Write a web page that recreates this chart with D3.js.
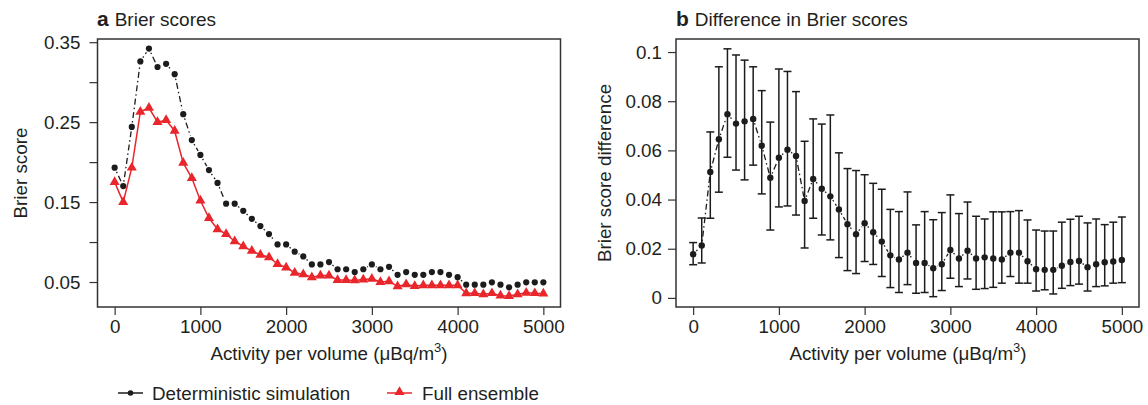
<!DOCTYPE html>
<html>
<head>
<meta charset="utf-8">
<script src="https://cdn.jsdelivr.net/npm/d3@7"></script>
<style>
  body { margin: 0; background: #fff; }
  text { font-family: "Liberation Sans", Arial, Helvetica, sans-serif; fill: #231f20; }
</style>
</head>
<body>
<div id="chart"></div>
<script>
// DATA
const activity = [0, 100, 200, 300, 400, 500, 600, 700, 800, 900, 1000, 1100, 1200, 1300, 1400, 1500,
  1600, 1700, 1800, 1900, 2000, 2100, 2200, 2300, 2400, 2500, 2600, 2700, 2800, 2900, 3000, 3100,
  3200, 3300, 3400, 3500, 3600, 3700, 3800, 3900, 4000, 4100, 4200, 4300, 4400, 4500, 4600, 4700,
  4800, 4900, 5000];

const deterministic = [0.193, 0.170, 0.244, 0.326, 0.342, 0.319, 0.323, 0.310, 0.260, 0.2275, 0.209,
  0.190, 0.174, 0.148, 0.148, 0.139, 0.129, 0.120, 0.110, 0.097, 0.097, 0.088, 0.082, 0.072, 0.072,
  0.075, 0.066, 0.066, 0.0625, 0.066, 0.072, 0.066, 0.069, 0.059, 0.0625, 0.059, 0.059, 0.0625,
  0.0625, 0.059, 0.056, 0.0467, 0.0467, 0.0467, 0.0496, 0.0467, 0.0434, 0.0467, 0.0496, 0.0496, 0.0496];

const ensemble = [0.175, 0.150, 0.193, 0.263, 0.268, 0.250, 0.2525, 0.239, 0.199, 0.180, 0.152,
  0.130, 0.116, 0.110, 0.101, 0.0946, 0.089, 0.084, 0.081, 0.0725, 0.068, 0.0616, 0.0596, 0.0559,
  0.058, 0.058, 0.0525, 0.0525, 0.052, 0.053, 0.054, 0.050, 0.051, 0.0446, 0.047, 0.045, 0.046,
  0.046, 0.046, 0.046, 0.046, 0.0359, 0.036, 0.0346, 0.036, 0.0329, 0.0325, 0.0346, 0.0365, 0.036, 0.0354];

const diffMean = [0.0178, 0.0213, 0.0512, 0.0645, 0.0747, 0.0709, 0.0718, 0.0728, 0.0619, 0.0489,
  0.057, 0.0603, 0.0577, 0.0394, 0.0484, 0.0444, 0.0413, 0.036, 0.030, 0.0259, 0.0304, 0.0267,
  0.0229, 0.0173, 0.0156, 0.0184, 0.0142, 0.0142, 0.0121, 0.0137, 0.0195, 0.016, 0.0192, 0.016,
  0.0165, 0.016, 0.0156, 0.0184, 0.0184, 0.0149, 0.0117, 0.0114, 0.0114, 0.0131, 0.0146, 0.015,
  0.0125, 0.0137, 0.0145, 0.0148, 0.0154];

const diffLow = [0.0135, 0.0142, 0.0324, 0.043, 0.0572, 0.052, 0.048, 0.054, 0.0423, 0.0276,
  0.037, 0.0374, 0.0337, 0.0203, 0.0324, 0.0256, 0.0236, 0.0164, 0.0111, 0.0099, 0.0148, 0.0136,
  0.0087, 0.0042, 0.0022, 0.0054, 0.0019, 0.0022, 0.0005, 0.003, 0.008, 0.0046, 0.0077, 0.0035,
  0.0038, 0.0043, 0.006, 0.0087, 0.006, 0.006, 0.0028, 0.0033, 0.0016, 0.0039, 0.005, 0.0056,
  0.0028, 0.0046, 0.0049, 0.006, 0.0062];

const diffHigh = [0.0225, 0.0325, 0.0675, 0.094, 0.1013, 0.0988, 0.0967, 0.094, 0.0843, 0.0715,
  0.0931, 0.0921, 0.0839, 0.0637, 0.0728, 0.0707, 0.0744, 0.059, 0.0526, 0.0518, 0.0501, 0.0466,
  0.0442, 0.036, 0.0351, 0.0431, 0.0297, 0.0351, 0.0318, 0.0347, 0.0419, 0.0343, 0.039, 0.0332,
  0.0321, 0.035, 0.035, 0.0351, 0.0355, 0.0317, 0.0276, 0.0272, 0.0272, 0.0308, 0.032, 0.0332,
  0.0305, 0.0321, 0.0298, 0.0308, 0.0329];

const xTicks = [0, 1000, 2000, 3000, 4000, 5000];
const yTicksA = [0.05, 0.10, 0.15, 0.20, 0.25, 0.30, 0.35];
const yLabelsA = ["0.05", "", "0.15", "", "0.25", "", "0.35"];
const yTicksB = [0, 0.02, 0.04, 0.06, 0.08, 0.1];
const yLabelsB = ["0", "0.02", "0.04", "0.06", "0.08", "0.1"];

const RED = "#e8262b";
const BLK = "#1c1c1c";
const FS = 18.8;

const W = 1148, H = 405;
const plotTop = 39, plotBottom = 307;

const svg = d3.select("#chart").append("svg")
  .attr("width", W).attr("height", H);

// helpers
function drawAxes(g, x, y, yTicks, yLabels, yPad) {
  g.append("g")
    .attr("transform", "translate(0," + plotBottom + ")")
    .call(d3.axisBottom(x).tickValues(xTicks).tickSize(8).tickPadding(5).tickFormat(d3.format("d")))
    .call(a => a.select(".domain").remove())
    .call(a => a.selectAll("line").attr("stroke", "#333").attr("stroke-width", 1.2))
    .call(a => a.selectAll("text").attr("font-size", FS).style("font-family", null));
  g.append("g")
    .attr("transform", "translate(" + x.range()[0] + ",0)")
    .call(d3.axisLeft(y).tickValues(yTicks).tickSize(8).tickPadding(yPad).tickFormat((d, i) => yLabels[i]))
    .call(a => a.select(".domain").remove())
    .call(a => a.selectAll("line").attr("stroke", "#333").attr("stroke-width", 1.2))
    .call(a => a.selectAll("text").attr("font-size", FS).style("font-family", null));
  g.append("rect")
    .attr("x", x.range()[0]).attr("y", plotTop)
    .attr("width", x.range()[1] - x.range()[0]).attr("height", plotBottom - plotTop)
    .attr("fill", "none").attr("stroke", "#333").attr("stroke-width", 1.5);
}

// R type="b" style: segments broken around points
function gappedSegments(g, pts, gap, dash) {
  for (let i = 0; i < pts.length - 1; i++) {
    const [x1, y1] = pts[i], [x2, y2] = pts[i + 1];
    const dx = x2 - x1, dy = y2 - y1;
    const len = Math.sqrt(dx * dx + dy * dy);
    if (len <= gap * 2) continue;
    const ux = dx / len, uy = dy / len;
    g.append("line")
      .attr("x1", x1 + ux * gap).attr("y1", y1 + uy * gap)
      .attr("x2", x2 - ux * gap).attr("y2", y2 - uy * gap)
      .attr("stroke", BLK).attr("stroke-width", 1.3)
      .attr("stroke-dasharray", dash);
  }
}

function axisTitle(g, cx, cy) {
  const t = g.append("text").attr("x", cx).attr("y", cy)
    .attr("text-anchor", "middle").attr("font-size", FS);
  t.append("tspan").text("Activity per volume (μBq/m");
  t.append("tspan").attr("font-size", 13).attr("dy", -8).text("3");
  t.append("tspan").attr("dy", 8).text(")");
}

function panelTitle(g, x0, letter, label) {
  const t = g.append("text").attr("x", x0).attr("y", 26).attr("font-size", 19);
  t.append("tspan").attr("font-weight", "bold").attr("font-size", 21).text(letter);
  t.append("tspan").attr("dx", 6).text(label);
}

// PANEL A
const xA = d3.scaleLinear().domain([-200, 5200]).range([97.5, 560.5]);
const yA = d3.scaleLinear().domain([0.01875, 0.354]).range([plotBottom, plotTop]);
const gA = svg.append("g");
drawAxes(gA, xA, yA, yTicksA, yLabelsA, 9);

const detPts = activity.map((a, i) => [xA(a), yA(deterministic[i])]);
gappedSegments(gA.append("g"), detPts, 4.5, "1.5,3,6,3");

gA.append("path")
  .datum(activity.map((a, i) => [xA(a), yA(ensemble[i])]))
  .attr("d", d3.line())
  .attr("fill", "none").attr("stroke", RED).attr("stroke-width", 1.5);

gA.append("g").selectAll("path")
  .data(activity.map((a, i) => [xA(a), yA(ensemble[i])]))
  .join("path")
  .attr("transform", d => "translate(" + d[0] + "," + d[1] + ")")
  .attr("d", d3.symbol(d3.symbolTriangle, 44))
  .attr("fill", RED);

gA.append("g").selectAll("circle")
  .data(detPts)
  .join("circle")
  .attr("cx", d => d[0]).attr("cy", d => d[1]).attr("r", 3.1)
  .attr("fill", BLK);

panelTitle(gA, 97, "a", "Brier scores");
axisTitle(gA, 329, 360);
gA.append("text")
  .attr("transform", "translate(27," + ((plotTop + plotBottom) / 2) + ") rotate(-90)")
  .attr("text-anchor", "middle").attr("font-size", FS)
  .text("Brier score");

// PANEL B
const xB = d3.scaleLinear().domain([-200, 5200]).range([676, 1139]);
const yB = d3.scaleLinear().domain([-0.0037, 0.1053]).range([plotBottom, plotTop]);
const gB = svg.append("g");
drawAxes(gB, xB, yB, yTicksB, yLabelsB, 6);

const bars = gB.append("g").attr("stroke", BLK).attr("stroke-width", 1.5);
activity.forEach((a, i) => {
  const x = xB(a);
  bars.append("line").attr("x1", x).attr("x2", x)
    .attr("y1", yB(diffLow[i])).attr("y2", yB(diffHigh[i]));
  bars.append("line").attr("x1", x - 4).attr("x2", x + 4)
    .attr("y1", yB(diffLow[i])).attr("y2", yB(diffLow[i]));
  bars.append("line").attr("x1", x - 4).attr("x2", x + 4)
    .attr("y1", yB(diffHigh[i])).attr("y2", yB(diffHigh[i]));
});

const diffPts = activity.map((a, i) => [xB(a), yB(diffMean[i])]);
gappedSegments(gB.append("g"), diffPts, 4.5, "1.5,3,6,3");

gB.append("g").selectAll("circle")
  .data(diffPts)
  .join("circle")
  .attr("cx", d => d[0]).attr("cy", d => d[1]).attr("r", 3.2)
  .attr("fill", BLK);

panelTitle(gB, 676, "b", "Difference in Brier scores");
axisTitle(gB, 908, 360);
gB.append("text")
  .attr("transform", "translate(611," + ((plotTop + plotBottom) / 2) + ") rotate(-90)")
  .attr("text-anchor", "middle").attr("font-size", FS)
  .text("Brier score difference");

// LEGEND
const leg = svg.append("g").attr("transform", "translate(0,393)");
leg.append("line").attr("x1", 118).attr("x2", 143).attr("stroke", BLK).attr("stroke-width", 1.5);
leg.append("circle").attr("cx", 130.5).attr("cy", 0).attr("r", 2.8).attr("fill", BLK);
leg.append("text").attr("x", 152).attr("y", 6.5).attr("font-size", FS).text("Deterministic simulation");
leg.append("line").attr("x1", 387).attr("x2", 412).attr("stroke", RED).attr("stroke-width", 1.5);
leg.append("path").attr("transform", "translate(399.5,-1)")
  .attr("d", d3.symbol(d3.symbolTriangle, 44)).attr("fill", RED);
leg.append("text").attr("x", 422).attr("y", 6.5).attr("font-size", FS).text("Full ensemble");
</script>
</body>
</html>
